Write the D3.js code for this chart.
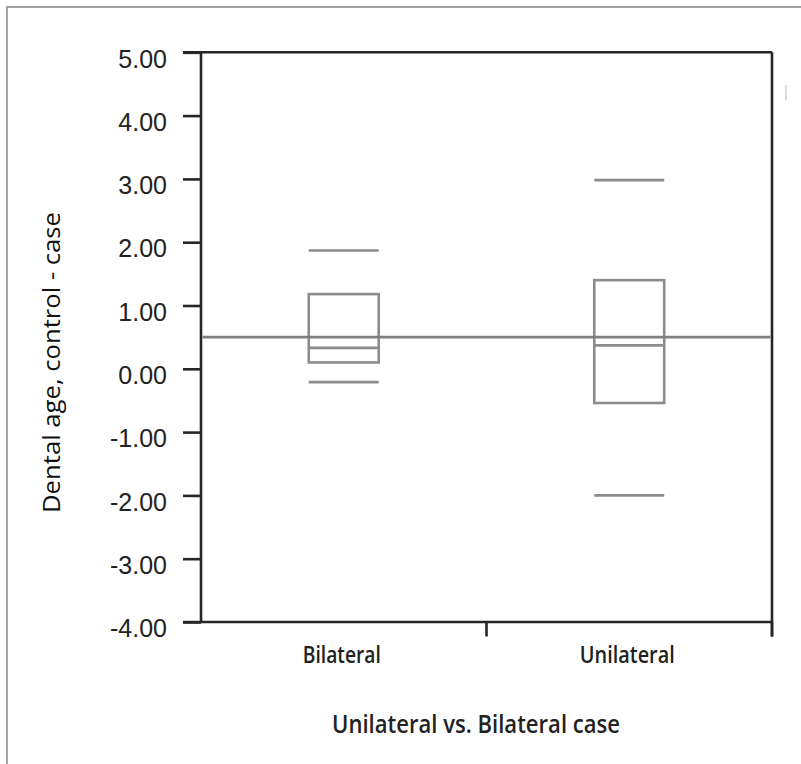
<!DOCTYPE html>
<html>
<head>
<meta charset="utf-8">
<script src="https://cdn.jsdelivr.net/npm/d3@7"></script>
<style>
  html, body { margin: 0; padding: 0; background: #fff; }
  svg { display: block; }
</style>
</head>
<body>
<svg id="chart" width="801" height="764"></svg>
<script>
// ---- data ----
const categories = ["Bilateral", "Unilateral"];
const whiskerHigh = [1.87, 2.98];
const q3Values    = [1.18, 1.40];
const medians     = [0.33, 0.37];
const q1Values    = [0.10, -0.54];
const whiskerLow  = [-0.21, -2.00];
const referenceValue = 0.5;
const yTicks = [5, 4, 3, 2, 1, 0, -1, -2, -3, -4];
const yTitle = "Dental age, control - case";
const xTitle = "Unilateral vs. Bilateral case";

(function () {
// ---- layout ----
const svg = d3.select("#chart");
const plotLeft = 201, plotRight = 772, plotTop = 52.3, plotBottom = 622;
const axisColor = "#262626", boxColor = "#8c8c8c";
const humanist = "'Open Sans', 'Noto Sans', sans-serif";
const textColor = "#222";

const x = d3.scaleBand().domain(categories).range([plotLeft, plotRight]).paddingInner(0).paddingOuter(0);
const y = d3.scaleLinear().domain([-4, 5]).range([plotBottom, plotTop]);

// outer frame (cropped at right/bottom)
svg.append("path")
  .attr("d", `M7,764 L7,7 L801,7`)
  .attr("fill", "none").attr("stroke", "#a3a3a3").attr("stroke-width", 2);

// faint artifact mark at right
svg.append("line").attr("x1", 786).attr("x2", 786).attr("y1", 85).attr("y2", 100)
  .attr("stroke", "#d0d0d0").attr("stroke-width", 1.5);

// y axis ticks and labels
const yAxis = d3.axisLeft(y).tickValues(yTicks).tickSize(18).tickPadding(16)
  .tickFormat(d => d.toFixed(2));
const gy = svg.append("g").attr("transform", `translate(${plotLeft},0)`).call(yAxis);
gy.select(".domain").remove();
gy.selectAll(".tick line").attr("stroke", axisColor).attr("stroke-width", 2.6);
gy.selectAll(".tick text")
  .attr("fill", "#222")
  .attr("font-family", "'Liberation Sans', Arial, sans-serif")
  .attr("font-size", 25)
  .attr("dy", "0.59em");

// plot frame
const frame = svg.append("g").attr("fill", "none").attr("stroke", axisColor).attr("stroke-width", 2.6);
frame.append("line").attr("x1", plotLeft - 18).attr("x2", plotRight).attr("y1", y(5)).attr("y2", y(5));
frame.append("line").attr("x1", plotLeft - 18).attr("x2", plotRight).attr("y1", y(-4)).attr("y2", y(-4));
frame.append("line").attr("x1", plotLeft).attr("x2", plotLeft).attr("y1", y(5)).attr("y2", y(-4));
frame.append("line").attr("x1", plotRight).attr("x2", plotRight).attr("y1", y(5)).attr("y2", y(-4) + 14.5);

// x boundary ticks
const boundaries = categories.map(c => x(c) + x.step());
frame.selectAll(".xb").data(boundaries).enter().append("line")
  .attr("x1", d => d).attr("x2", d => d)
  .attr("y1", y(-4)).attr("y2", y(-4) + 14.5);

// x category labels
const catWidths = [78, 95];
svg.selectAll(".cat").data(categories).enter().append("text")
  .attr("x", d => x(d) + x.bandwidth() / 2 - 2)
  .attr("y", 663.3)
  .attr("text-anchor", "middle")
  .attr("font-family", humanist)
  .attr("font-weight", 600)
  .attr("font-size", 23)
  .attr("fill", textColor)
  .attr("textLength", (d, i) => catWidths[i])
  .attr("lengthAdjust", "spacingAndGlyphs")
  .text(d => d);

// x title
svg.append("text")
  .attr("x", 476).attr("y", 733.3)
  .attr("text-anchor", "middle")
  .attr("font-family", humanist)
  .attr("font-weight", 600)
  .attr("font-size", 25.5)
  .attr("fill", textColor)
  .attr("textLength", 288)
  .attr("lengthAdjust", "spacingAndGlyphs")
  .text(xTitle);

// y title
svg.append("text")
  .attr("transform", `translate(60,362.5) rotate(-90)`)
  .attr("text-anchor", "middle")
  .attr("font-family", humanist)
  .attr("font-weight", 400)
  .attr("font-size", 23.5)
  .attr("fill", "#111")
  .attr("textLength", 301)
  .attr("lengthAdjust", "spacingAndGlyphs")
  .text(yTitle);

// boxes
const boxW = x.bandwidth() * 0.245;
const data = categories.map((c, i) => ({
  c, hi: whiskerHigh[i], q3: q3Values[i], med: medians[i], q1: q1Values[i], lo: whiskerLow[i]
}));
const gb = svg.append("g").attr("fill", "none").attr("stroke", boxColor).attr("stroke-width", 2.6);
data.forEach(d => {
  const cx = x(d.c) + x.bandwidth() / 2;
  const x0 = cx - boxW / 2, x1 = cx + boxW / 2;
  gb.append("rect").attr("x", x0).attr("y", y(d.q3)).attr("width", boxW).attr("height", y(d.q1) - y(d.q3));
  gb.append("line").attr("x1", x0).attr("x2", x1).attr("y1", y(d.med)).attr("y2", y(d.med));
  gb.append("line").attr("x1", x0).attr("x2", x1).attr("y1", y(d.hi)).attr("y2", y(d.hi));
  gb.append("line").attr("x1", x0).attr("x2", x1).attr("y1", y(d.lo)).attr("y2", y(d.lo));
});

// reference line
svg.append("line")
  .attr("x1", plotLeft + 1.5).attr("x2", plotRight - 1.5)
  .attr("y1", y(referenceValue)).attr("y2", y(referenceValue))
  .attr("stroke", "#7f7f7f").attr("stroke-width", 2.6);
})();
</script>
</body>
</html>
